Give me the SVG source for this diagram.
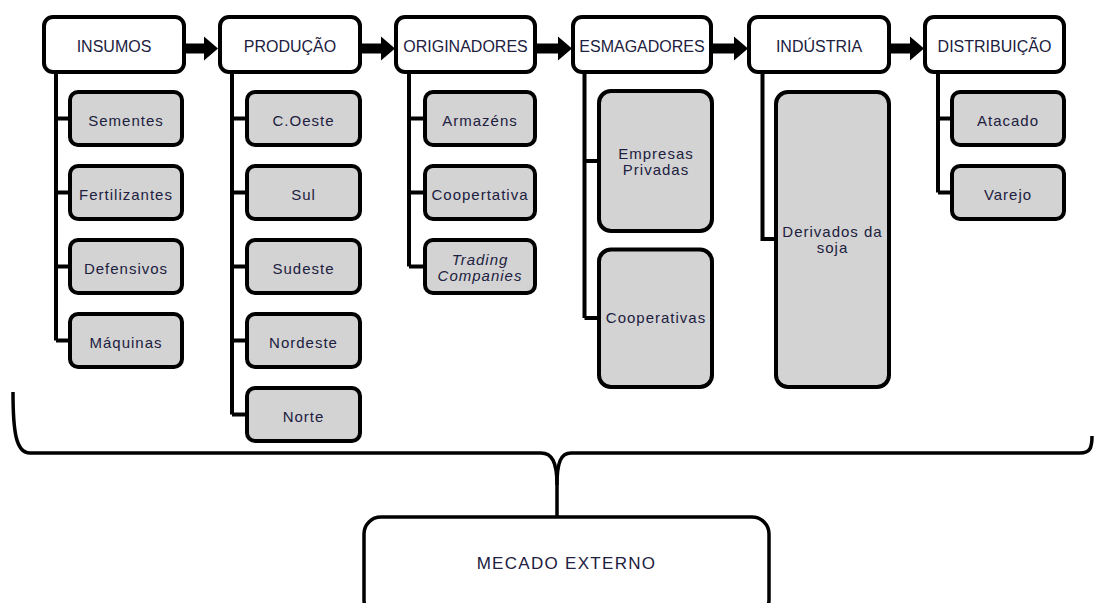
<svg xmlns="http://www.w3.org/2000/svg" width="1094" height="603" viewBox="0 0 1094 603">
<style>
.hdr{fill:#fff;stroke:#000;stroke-width:4}
.sub{fill:#d3d3d3;stroke:#000;stroke-width:4}
.ht{font-family:"Liberation Sans",Arial,sans-serif;font-size:16px;fill:#202040;text-anchor:middle}
.st{font-family:"Liberation Sans",Arial,sans-serif;font-size:15px;letter-spacing:1px;fill:#202040;text-anchor:middle}
.tree{fill:none;stroke:#000;stroke-width:4}
.arr{fill:#000}
.brace{fill:none;stroke:#000;stroke-width:3.5}
</style>
<rect width="1094" height="603" fill="#fff"/>
<g id="connectors">
  <path class="tree" d="M56 72 V340.5 M56 118.5 H70 M56 192.5 H70 M56 266.5 H70 M56 340.5 H70"/>
  <path class="tree" d="M232 72 V414.5 M232 118.5 H247 M232 192.5 H247 M232 266.5 H247 M232 340.5 H247 M232 414.5 H247"/>
  <path class="tree" d="M409 72 V266.5 M409 118.5 H425 M409 192.5 H425 M409 266.5 H425"/>
  <path class="tree" d="M584.5 72 V318 M584.5 161 H599 M584.5 318 H599"/>
  <path class="tree" d="M762.5 72 V239 H776"/>
  <path class="tree" d="M938 72 V192.5 M938 118.5 H952 M938 192.5 H952"/>
  <polygon class="arr" points="186,43.5 204,43.5 204,36.5 218,48.5 204,60.5 204,53.5 186,53.5"/>
  <polygon class="arr" points="362,43.5 381,43.5 381,36.5 395,48.5 381,60.5 381,53.5 362,53.5"/>
  <polygon class="arr" points="537,43.5 558,43.5 558,36.5 572,48.5 558,60.5 558,53.5 537,53.5"/>
  <polygon class="arr" points="713,43.5 734,43.5 734,36.5 748,48.5 734,60.5 734,53.5 713,53.5"/>
  <polygon class="arr" points="891,43.5 910,43.5 910,36.5 924,48.5 910,60.5 910,53.5 891,53.5"/>
  <path class="brace" d="M13 392 C13 432 16 453 30 453 L541 453 C552 453 557 462 557 485 L557 517"/>
  <path class="brace" d="M1092 436 C1092 448 1090 453 1080 453 L571 453 C561 453 557 462 557 485"/>
</g>
<g id="insumos">
  <rect class="hdr" x="44" y="17" width="140" height="55" rx="9"/>
  <text class="ht" x="114" y="52">INSUMOS</text>
</g>
<g id="producao">
  <rect class="hdr" x="220" y="17" width="140" height="55" rx="9"/>
  <text class="ht" x="290" y="52">PRODUÇÃO</text>
</g>
<g id="originadores">
  <rect class="hdr" x="396" y="17" width="139" height="55" rx="9"/>
  <text class="ht" x="465.5" y="52">ORIGINADORES</text>
</g>
<g id="esmagadores">
  <rect class="hdr" x="573" y="17" width="138" height="55" rx="9"/>
  <text class="ht" x="642" y="52">ESMAGADORES</text>
</g>
<g id="industria">
  <rect class="hdr" x="749" y="17" width="140" height="55" rx="9"/>
  <text class="ht" x="819" y="52">INDÚSTRIA</text>
</g>
<g id="distribuicao">
  <rect class="hdr" x="925" y="17" width="139" height="55" rx="9"/>
  <text class="ht" x="994.5" y="52">DISTRIBUIÇÃO</text>
</g>
<g id="sementes"><rect class="sub" x="70" y="92" width="112" height="53" rx="8"/><text class="st" x="126" y="126">Sementes</text></g>
<g id="fertilizantes"><rect class="sub" x="70" y="166" width="112" height="53" rx="8"/><text class="st" x="126" y="200">Fertilizantes</text></g>
<g id="defensivos"><rect class="sub" x="70" y="240" width="112" height="53" rx="8"/><text class="st" x="126" y="274">Defensivos</text></g>
<g id="maquinas"><rect class="sub" x="70" y="314" width="112" height="53" rx="8"/><text class="st" x="126" y="348">Máquinas</text></g>
<g id="coeste"><rect class="sub" x="247" y="92" width="113" height="53" rx="8"/><text class="st" x="303.5" y="126">C.Oeste</text></g>
<g id="sul"><rect class="sub" x="247" y="166" width="113" height="53" rx="8"/><text class="st" x="303.5" y="200">Sul</text></g>
<g id="sudeste"><rect class="sub" x="247" y="240" width="113" height="53" rx="8"/><text class="st" x="303.5" y="274">Sudeste</text></g>
<g id="nordeste"><rect class="sub" x="247" y="314" width="113" height="53" rx="8"/><text class="st" x="303.5" y="348">Nordeste</text></g>
<g id="norte"><rect class="sub" x="247" y="388" width="113" height="53" rx="8"/><text class="st" x="303.5" y="422">Norte</text></g>
<g id="armazens"><rect class="sub" x="425" y="92" width="110" height="53" rx="8"/><text class="st" x="480" y="126">Armazéns</text></g>
<g id="coopertativa"><rect class="sub" x="425" y="166" width="110" height="53" rx="8"/><text class="st" x="480" y="200">Coopertativa</text></g>
<g id="trading"><rect class="sub" x="425" y="240" width="110" height="53" rx="8"/><text class="st" x="480" y="265" font-style="italic">Trading</text><text class="st" x="480" y="281" font-style="italic">Companies</text></g>
<g id="empresas"><rect class="sub" x="599" y="91" width="113" height="140" rx="12"/><text class="st" x="656" y="159">Empresas</text><text class="st" x="656" y="175">Privadas</text></g>
<g id="cooperativas"><rect class="sub" x="599" y="249.5" width="113" height="137.5" rx="12"/><text class="st" x="656" y="323">Cooperativas</text></g>
<g id="derivados"><rect class="sub" x="776" y="92" width="113" height="295" rx="12"/><text class="st" x="832.5" y="237">Derivados da</text><text class="st" x="832.5" y="253">soja</text></g>
<g id="atacado"><rect class="sub" x="952" y="92" width="112" height="53" rx="8"/><text class="st" x="1008" y="126">Atacado</text></g>
<g id="varejo"><rect class="sub" x="952" y="166" width="112" height="53" rx="8"/><text class="st" x="1008" y="200">Varejo</text></g>
<g id="mercado-externo">
  <rect x="364" y="517" width="405" height="100" rx="17" fill="#fff" stroke="#000" stroke-width="3.5"/>
  <text x="566.5" y="569" font-family="'Liberation Sans',Arial,sans-serif" font-size="17" letter-spacing="1.3" fill="#202040" text-anchor="middle">MECADO EXTERNO</text>
</g>
</svg>
